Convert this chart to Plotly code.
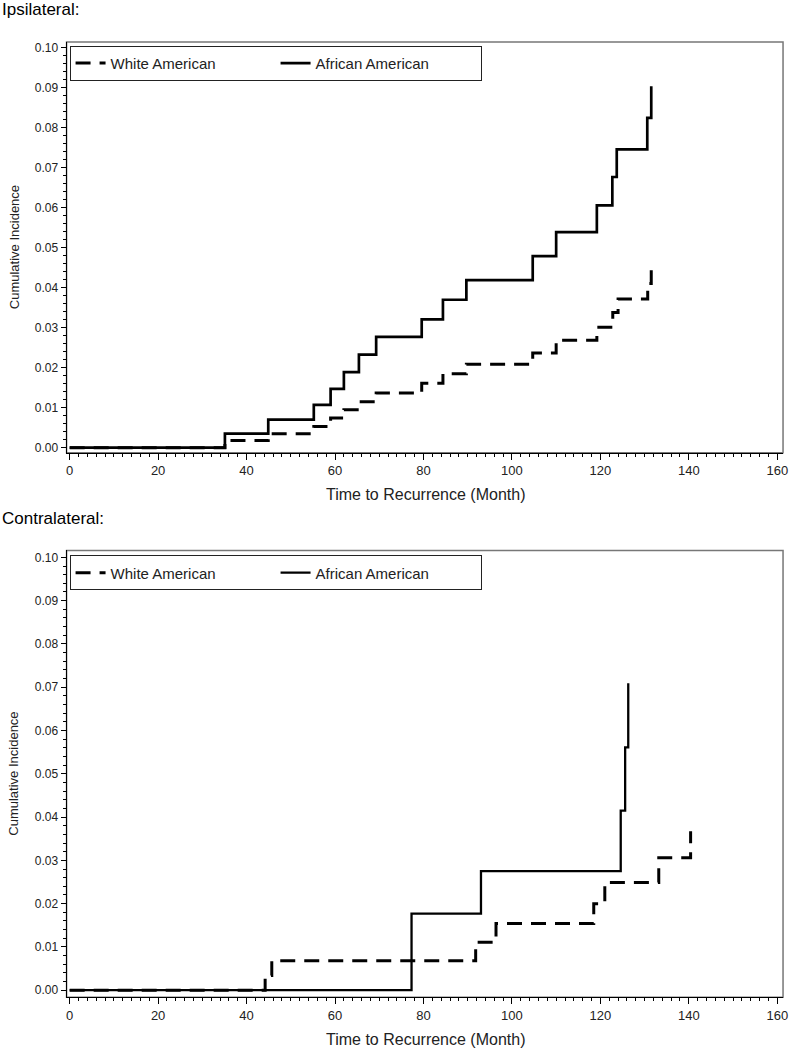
import plotly.graph_objects as go

FONT = "Liberation Sans, Arial, sans-serif"

# ---- Ipsilateral (top) ----
ipsi_time_white = [0, 35.1, 44.9, 55.2, 59.0, 62.0, 65.4, 69.3, 79.6, 84.4, 89.7,
                   104.7, 110.0, 119.2, 122.8, 124.0, 130.7, 131.5]
ipsi_ci_white = [0, 0.0018, 0.0035, 0.0053, 0.0074, 0.0095, 0.0115, 0.0137, 0.0161,
                 0.0185, 0.0209, 0.0237, 0.0269, 0.0301, 0.0338, 0.0372, 0.0411, 0.0452]
ipsi_time_african = [0, 35.1, 44.9, 55.2, 59.0, 62.0, 65.4, 69.3, 79.6, 84.4, 89.7,
                     104.7, 110.0, 119.2, 122.7, 123.7, 130.6, 131.5]
ipsi_ci_african = [0, 0.0035, 0.0070, 0.0107, 0.0147, 0.0189, 0.0233, 0.0277, 0.0321,
                   0.0370, 0.0419, 0.0479, 0.0539, 0.0606, 0.0677, 0.0746, 0.0825, 0.0904]

# ---- Contralateral (bottom) ----
contra_time_white = [0, 44.2, 45.7, 91.8, 96.4, 118.5, 121.0, 133.2, 140.4]
contra_ci_white = [0, 0.0034, 0.0068, 0.0111, 0.0154, 0.0200, 0.0249, 0.0306, 0.0367]
contra_time_african = [0, 77.3, 93.0, 124.6, 125.6, 126.3]
contra_ci_african = [0, 0.0177, 0.0275, 0.0415, 0.0561, 0.0709]

series_names = ["White American", "African American"]
panel_titles = ["Ipsilateral:", "Contralateral:"]
x_title = "Time to Recurrence (Month)"
y_title = "Cumulative Incidence"
x_ticks = [0, 20, 40, 60, 80, 100, 120, 140, 160]
y_ticks = [0.00, 0.01, 0.02, 0.03, 0.04, 0.05, 0.06, 0.07, 0.08, 0.09, 0.10]

W, H = 794, 1050

def py(p):
    return 1 - p / H

fig = go.Figure()

DASH = "15px,9px"

fig.add_trace(go.Scatter(x=ipsi_time_white, y=ipsi_ci_white, mode="lines", line_shape="hv",
                         line=dict(color="black", width=3, dash=DASH), name=series_names[0],
                         xaxis="x", yaxis="y", legend="legend"))
fig.add_trace(go.Scatter(x=ipsi_time_african, y=ipsi_ci_african, mode="lines", line_shape="hv",
                         line=dict(color="black", width=2.7), name=series_names[1],
                         xaxis="x", yaxis="y", legend="legend"))
fig.add_trace(go.Scatter(x=contra_time_white, y=contra_ci_white, mode="lines", line_shape="hv",
                         line=dict(color="black", width=3, dash=DASH), name=series_names[0],
                         xaxis="x2", yaxis="y2", legend="legend2"))
fig.add_trace(go.Scatter(x=contra_time_african, y=contra_ci_african, mode="lines", line_shape="hv",
                         line=dict(color="black", width=2.3), name=series_names[1],
                         xaxis="x2", yaxis="y2", legend="legend2"))

xdom = [67 / W, 788 / W]
top_dom = [py(453), py(41)]
bot_dom = [py(999), py(551)]

def xaxis_cfg(anchor):
    return dict(domain=xdom, anchor=anchor, range=[-0.7, 161.3], tickvals=x_ticks,
                ticks="outside", ticklen=6, tickwidth=1, tickcolor="black",
                showline=True, linecolor="black", linewidth=1, showgrid=False, zeroline=False,
                tickfont=dict(family=FONT, size=13, color="#222"),
                minor=dict(dtick=2, tick0=0, ticks="outside", ticklen=3, tickcolor="black",
                           showgrid=False))

def yaxis_cfg(anchor, dom, rng):
    return dict(domain=dom, anchor=anchor, range=rng, tickvals=y_ticks, tickformat=".2f",
                ticks="outside", ticklen=5, tickwidth=1, tickcolor="black",
                showline=True, linecolor="black", linewidth=1, showgrid=False, zeroline=False,
                tickfont=dict(family=FONT, size=12, color="#222"),
                minor=dict(dtick=0.002, tick0=0, ticks="outside", ticklen=3, tickcolor="black",
                           showgrid=False))

legend_common = dict(orientation="h", xanchor="left", yanchor="top",
                     bgcolor="white", bordercolor="#222", borderwidth=1,
                     font=dict(family=FONT, size=15, color="#222"),
                     entrywidth=160, tracegroupgap=0)

fig.update_layout(
    width=W, height=H, margin=dict(l=0, r=0, t=0, b=0),
    paper_bgcolor="white", plot_bgcolor="white",
    font=dict(family=FONT, color="#222"),
    xaxis=xaxis_cfg("y"),
    yaxis=yaxis_cfg("x", top_dom, [-0.00125, 0.1015]),
    xaxis2=xaxis_cfg("y2"),
    yaxis2=yaxis_cfg("x2", bot_dom, [-0.0016, 0.1016]),
    legend=dict(x=70 / W, y=py(45), **legend_common),
    legend2=dict(x=70 / W, y=py(556), **legend_common),
    showlegend=True,
)

# frame (gray box around plot area)
for xr, yr in [("x domain", "y domain"), ("x2 domain", "y2 domain")]:
    fig.add_shape(type="rect", xref=xr, yref=yr, x0=0, x1=1, y0=0, y1=1,
                  line=dict(color="#777", width=1.5), layer="below")

ann = []
ann.append(dict(text=panel_titles[0], x=0, y=py(9), xref="paper", yref="paper",
                xanchor="left", yanchor="middle", showarrow=False,
                font=dict(family=FONT, size=17, color="black")))
ann.append(dict(text=panel_titles[1], x=0, y=py(519), xref="paper", yref="paper",
                xanchor="left", yanchor="middle", showarrow=False,
                font=dict(family=FONT, size=17, color="black")))
for yc in [495, 1041]:
    ann.append(dict(text=x_title, x=428 / W, y=py(yc), xref="paper", yref="paper",
                    xanchor="center", yanchor="middle", showarrow=False,
                    font=dict(family=FONT, size=16, color="#222")))
for yc in [(41 + 453) / 2, (551 + 999) / 2]:
    ann.append(dict(text=y_title, x=14 / W, y=py(yc), xref="paper", yref="paper",
                    xanchor="center", yanchor="middle", showarrow=False, textangle=-90,
                    font=dict(family=FONT, size=13, color="#222")))
fig.update_layout(annotations=ann)

fig.write_html("out.html",
               config={"displayModeBar": False},
               post_script="document.body.style.margin='0';document.body.style.overflow='hidden';")
